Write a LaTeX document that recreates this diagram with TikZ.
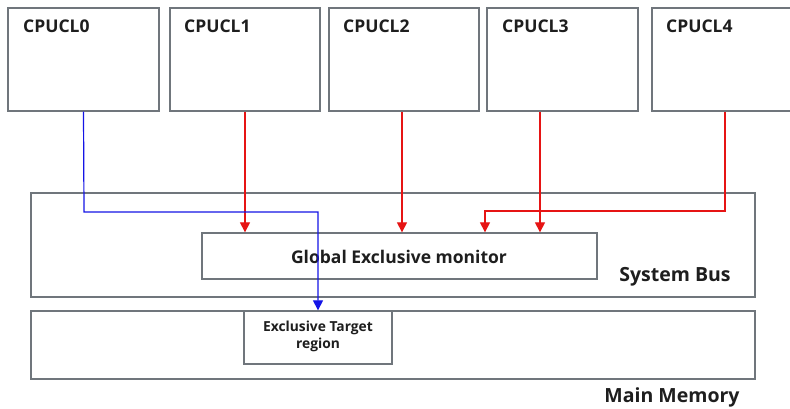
\documentclass[tikz,border=0pt]{standalone}
\usepackage{fontspec}
\setmainfont{Open Sans}
\usetikzlibrary{arrows.meta}
\definecolor{boxgray}{RGB}{112,118,124}
\definecolor{lnred}{RGB}{230,20,20}
\definecolor{lnblue}{RGB}{20,20,230}
\definecolor{txt}{RGB}{30,30,30}
\begin{document}
\begin{tikzpicture}[x=1pt,y=-1pt,
  box/.style={draw=boxgray,line width=1.3pt,fill=white,inner sep=0pt},
  cpulbl/.style={anchor=west,inner sep=0pt,text=txt,font=\fontsize{17.5}{20}\selectfont\bfseries},
  redarrow/.style={draw=lnred,line width=1.2pt,-{Triangle[length=10pt,width=10pt]}},
  bluearrow/.style={draw=lnblue,line width=1.2pt,-{Triangle[length=10pt,width=10pt]}},
  lbl/.style={inner sep=0pt,text=txt,font=\fontsize{19.5}{22}\selectfont\bfseries}]
\useasboundingbox[fill=white] (0,0) rectangle (790,409);
\clip (0,0) rectangle (790,409);
% CPU boxes
\node[box,minimum width=151pt,minimum height=103pt] (c0) at (83.5,59.5) {};
\node[box,minimum width=150pt,minimum height=103pt] (c1) at (245,59.5) {};
\node[box,minimum width=150pt,minimum height=103pt] (c2) at (404,59.5) {};
\node[box,minimum width=151pt,minimum height=103pt] (c3) at (562.5,59.5) {};
\node[box,minimum width=160pt,minimum height=103pt] (c4) at (732,59.5) {};
\node[cpulbl] (l0) at (23,26) {CPUCL0};
\node[cpulbl] (l1) at (184,26) {CPUCL1};
\node[cpulbl] (l2) at (343,26) {CPUCL2};
\node[cpulbl] (l3) at (502,26) {CPUCL3};
\node[cpulbl] (l4) at (666,26) {CPUCL4};
% system bus
\node[box,minimum width=724pt,minimum height=104pt] (bus) at (393,245) {};
\node[box,minimum width=395pt,minimum height=46pt] (gem) at (399.5,256) {};
\node[lbl,font=\fontsize{17.5}{20}\selectfont\bfseries] (gemt) at (399,257) {Global Exclusive monitor};
\node[lbl] (bust) at (675,277) {System Bus};
% main memory
\node[box,minimum width=724pt,minimum height=68pt] (mem) at (393,345) {};
\node[box,minimum width=148pt,minimum height=53pt] (etr) at (318,337.5) {};
\node[lbl,align=center,font=\fontsize{13.8}{17}\selectfont\bfseries] (etrt) at (318,336.5) {Exclusive Target\\region};
\node[lbl] (memt) at (672,397) {Main Memory};
% connectors
\draw[redarrow] (c1.south) -- (c1.south |- gem.north);
\draw[redarrow] (c2.south -| 402,0) -- (gem.north -| 402,0);
\draw[redarrow] (c3.south -| 540,0) -- (gem.north -| 540,0);
\draw[redarrow] (c4.south -| 725,0) -- (725,211) -| (gem.north -| 485,0);
\draw[bluearrow] (c0.south) -- (84,212) -| (etr.north);
\end{tikzpicture}
\end{document}
